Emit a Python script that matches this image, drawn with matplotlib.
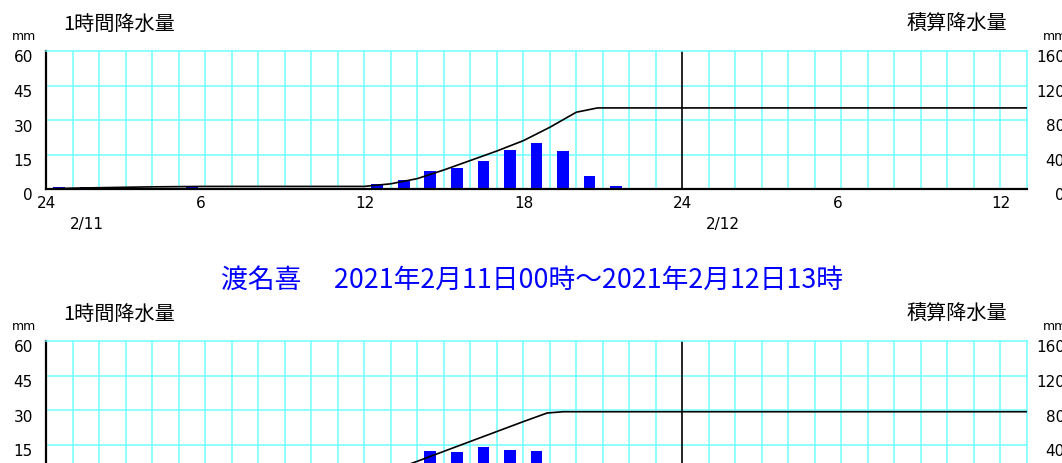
import matplotlib
matplotlib.use('Agg')
import matplotlib.pyplot as plt
import numpy as np

plt.rcParams['font.family'] = ['Noto Sans CJK JP', 'DejaVu Sans']

# --- data (hours counted from 2/11 00:00) ---
# hourly rainfall (mm), keyed by the hour that ends the interval
top_rain_hour = [1, 2, 4, 6, 13, 14, 15, 16, 17, 18, 19, 20, 21, 22]
top_rain = [1.0, 1.0, 0.5, 1.0, 2.0, 4.0, 8.0, 9.0, 12.3, 17.0, 20.0, 16.7, 5.5, 1.5]
# cumulative rainfall (mm), breakpoints of the line
top_cum_hour = [0, 1, 2, 4, 6, 12, 13, 14, 15, 16, 17, 18, 19, 20, 20.8, 37]
top_cum = [0, 1.0, 1.5, 2.5, 3.0, 3.0, 6.0, 12.0, 22.0, 33.0, 44.0, 56.0, 71.5, 89.0, 94.0, 94.0]

bot_rain_hour = [15, 16, 17, 18, 19]
bot_rain = [12.3, 11.6, 14.0, 12.6, 12.0]
bot_cum_hour = [13, 14, 15, 16, 17, 18, 18.9, 19.5, 37]
bot_cum = [9.5, 20.5, 32.0, 43.5, 55.0, 66.5, 76.5, 78.0, 78.0]

bot_title = '渡名喜　 2021年2月11日00時～2021年2月12日13時'

left_ticks = [0, 15, 30, 45, 60]
right_ticks = [0, 40, 80, 120, 160]
x_ticks = [0, 6, 12, 18, 24, 30, 36]
x_labels = ['24', '6', '12', '18', '24', '6', '12']
day_ticks = [0, 24]
day_labels = ['2/11', '2/12']

W, H = 1062, 464
GRID = '#70FFFF'
NUM = 'DejaVu Sans'

fig = plt.figure(figsize=(W / 100, H / 100), dpi=100)


def draw_panel(dy, rain_hour, rain, cum_hour, cum):
    ax = fig.add_axes([46 / W, 1 - (190 + dy) / H, 981 / W, 138 / H])
    ax.set_xlim(0, 37)
    ax.set_ylim(0, 60)
    for h in range(1, 37):
        if h == 24:
            ax.axvline(h, color='black', lw=1.2, zorder=1)
        else:
            ax.axvline(h, color=GRID, lw=1.1, zorder=0)
    for v in left_ticks[1:-1]:
        ax.axhline(v, color=GRID, lw=1.1, zorder=0)
    ax.bar(np.array(rain_hour) - 0.5, rain, width=0.45, color='#0000FF', zorder=2)

    ax2 = ax.twinx()
    ax2.set_ylim(0, 160)
    ax2.plot(cum_hour, cum, color='black', lw=1.2, zorder=3)

    for a in (ax, ax2):
        a.tick_params(left=False, right=False, bottom=False, top=False,
                      labelleft=False, labelright=False, labelbottom=False)
    for s in ax2.spines.values():
        s.set_visible(False)
    ax.spines['left'].set_color('black')
    ax.spines['left'].set_linewidth(1.6)
    ax.spines['bottom'].set_color('black')
    ax.spines['bottom'].set_linewidth(1.6)
    ax.spines['bottom'].set_zorder(4)
    ax.spines['top'].set_color(GRID)
    ax.spines['right'].set_color(GRID)
    ax.spines['top'].set_linewidth(1.1)
    ax.spines['right'].set_linewidth(1.1)

    for v in left_ticks:
        ax.annotate(str(v), xy=(0, v), xycoords=('axes fraction', 'data'),
                    xytext=(-13, -6), textcoords='offset pixels', ha='right',
                    va='center', fontsize=11, family=NUM, annotation_clip=False)
    for v in right_ticks:
        ax2.annotate(str(v), xy=(1, v), xycoords=('axes fraction', 'data'),
                     xytext=(38, -6), textcoords='offset pixels', ha='right',
                     va='center', fontsize=11, family=NUM, annotation_clip=False)
    for h, lab in zip(x_ticks, x_labels):
        ax.annotate(lab, xy=(h, 0), xycoords=('data', 'axes fraction'),
                    xytext=(-9, -13), textcoords='offset pixels', ha='left',
                    va='center', fontsize=11, family=NUM, annotation_clip=False)
    for h, lab in zip(day_ticks, day_labels):
        ax.annotate(lab, xy=(h, 0), xycoords=('data', 'axes fraction'),
                    xytext=(24, -35), textcoords='offset pixels', ha='left',
                    va='center', fontsize=11, family=NUM, annotation_clip=False)

    fig.text(63 / W, 1 - (24 + dy) / H, '1時間降水量', fontsize=14.5, ha='left', va='center')
    fig.text(1007 / W, 1 - (24 + dy) / H, '積算降水量', fontsize=14.5, ha='right', va='center')
    fig.text(12 / W, 1 - (37 + dy) / H, 'mm', fontsize=9, family=NUM, ha='left', va='center')
    fig.text(1043 / W, 1 - (37 + dy) / H, 'mm', fontsize=9, family=NUM, ha='left', va='center')


draw_panel(0, top_rain_hour, top_rain, top_cum_hour, top_cum)
draw_panel(290, bot_rain_hour, bot_rain, bot_cum_hour, bot_cum)
fig.text(532 / W, 1 - 280 / H, bot_title, color='#0000FF', fontsize=19.3,
         ha='center', va='center')

fig.savefig('out.png', dpi=100)
plt.close(fig)
